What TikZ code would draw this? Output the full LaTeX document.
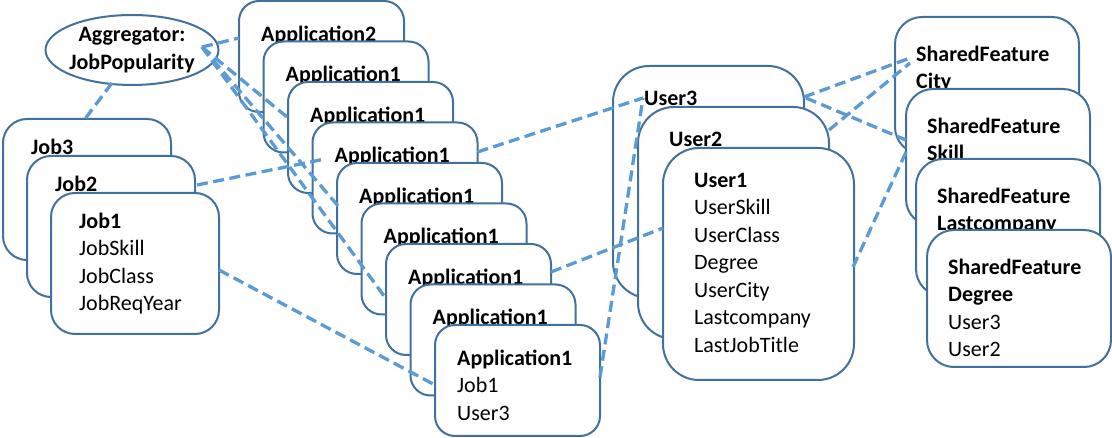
\documentclass[tikz,border=0pt]{standalone}
\usepackage{fontspec}
\setmainfont{Carlito}
\usetikzlibrary{calc,shapes.geometric}
\definecolor{cardedge}{HTML}{41719C}
\definecolor{linkblue}{HTML}{5B9BD5}

\begin{document}
\begin{tikzpicture}[x=1pt,y=-1pt,
  card/.style={draw=cardedge, line width=2pt, fill=white, anchor=north west,
    inner sep=0pt, outer sep=0pt},
  jobcard/.style={card, minimum width=168pt, minimum height=141pt, rounded corners=24pt},
  appcard/.style={card, minimum width=165pt, minimum height=111pt, rounded corners=20pt},
  usercard/.style={card, minimum width=191pt, minimum height=232pt, rounded corners=36pt},
  sharedcard/.style={card, minimum width=184pt, minimum height=137pt, rounded corners=27pt},
  txt/.style={anchor=north west, inner sep=0pt, align=left,
    font=\fontsize{22}{27.5}\selectfont},
  aggshape/.style={ellipse, draw=cardedge, line width=2pt, inner sep=0pt,
    minimum width=173pt, minimum height=70pt},
  aggtext/.style={inner sep=0pt, align=center, font=\fontsize{22}{27.5}\selectfont\bfseries},
  link/.style={draw=linkblue, line width=3.3pt, dash pattern=on 11pt off 5.5pt},
]
\useasboundingbox (0,0) rectangle (1112,438);

% aggregator
\node[aggshape] (agg) at (132,50) {};
\node[aggtext] (aggt) at (agg.center) {Aggregator:\\JobPopularity};

% job stack
\node[jobcard] (j3) at (3,119) {};
\node[txt] (j3t) at ($(j3.north west)+(28,15.75)$) {\strut\textbf{Job3}};
\node[jobcard] (j2) at (27,156) {};
\node[txt] (j2t) at ($(j2.north west)+(28,15.75)$) {\strut\textbf{Job2}};
\node[jobcard] (j1) at (51,193) {};
\node[txt] (j1t) at ($(j1.north west)+(28,15.75)$)
  {\strut\textbf{Job1}\\JobSkill\\JobClass\\JobReqYear};

% application stack: only the heading of each back card shows
\foreach \i/\n in {0/2,1/1,2/1,3/1,4/1,5/1,6/1,7/1} {
  \node[appcard] (a\i) at (239+24.5*\i, 1+40.5*\i) {};
  \node[txt] (apptext\i) at ($(a\i.north west)+(22,20.75)$)
    {\strut\textbf{Application\n}};
}
\node[appcard] (a8) at (435,325) {};
\node[txt] (apptext8) at ($(a8.north west)+(22,20.75)$)
  {\strut\textbf{Application1}\\Job1\\User3};

% user stack
\node[usercard] (u3) at (613,66) {};
\node[txt] (u3t) at ($(u3.north west)+(31,19.75)$) {\strut\textbf{User3}};
\node[usercard] (u2) at (638,107) {};
\node[txt] (u2t) at ($(u2.north west)+(31,19.75)$) {\strut\textbf{User2}};
\node[usercard] (u1) at (663,148) {};
\node[txt] (u1t) at ($(u1.north west)+(31,19.75)$)
  {\strut\textbf{User1}\\UserSkill\\UserClass\\Degree\\UserCity\\Lastcompany\\LastJobTitle};

% shared feature stack
\node[sharedcard] (s1) at (895,17) {};
\node[txt] (s1t) at ($(s1.north west)+(21,24.75)$) {\strut\textbf{SharedFeature}\\\textbf{City}};
\node[sharedcard] (s2) at (906,89) {};
\node[txt] (s2t) at ($(s2.north west)+(21,24.75)$) {\strut\textbf{SharedFeature}\\\textbf{Skill}};
\node[sharedcard] (s3) at (916,159) {};
\node[txt] (s3t) at ($(s3.north west)+(21,24.75)$) {\strut\textbf{SharedFeature}\\\textbf{Lastcompany}};
\node[sharedcard] (s4) at (927,230) {};
\node[txt] (s4t) at ($(s4.north west)+(21,24.75)$)
  {\strut\textbf{SharedFeature}\\\textbf{Degree}\\User3\\User2};

% links
\coordinate (aggp) at ($(agg.center)+(70,-3)$);
\draw[link] ($(agg.center)+(-20,33)$) -- ($(j3.north west)+(82,0)$);
\draw[link] (aggp) -- ($(a0.north west)+(0,37)$);
\draw[link] (aggp) -- ($(a2.north west)+(-1,35)$);
\draw[link] (aggp) -- ($(a4.north west)+(2,44)$);
\draw[link] (aggp) -- ($(a6.north west)+(1,56)$);
\draw[link] ($(j2.north west)+(170,29)$) -- ($(a3.north west)+(10,37)$);
\draw[link] ($(j1.north west)+(168,77)$) -- ($(a8.north west)+(0,60)$);
\draw[link] ($(a3.north west)+(165,29.5)$) -- ($(u3.north west)+(30,32)$);
\draw[link] ($(a6.north west)+(165,28)$) -- ($(u1.north west)+(0,80)$);
\draw[link] ($(a8.north west)+(165,52)$) -- ($(u3.north west)+(30,32)$);
\draw[link] ($(u3.north west)+(191,31)$) -- ($(s1.north west)+(15,41)$);
\draw[link] ($(u3.north west)+(193,32)$) -- ($(s2.north west)+(0,51)$);
\draw[link] ($(u2.north west)+(191,23)$) -- ($(s1.north west)+(15,46)$);
\draw[link] ($(u1.north west)+(190,119)$) -- ($(s2.north west)+(1,61)$);
\end{tikzpicture}
\end{document}
